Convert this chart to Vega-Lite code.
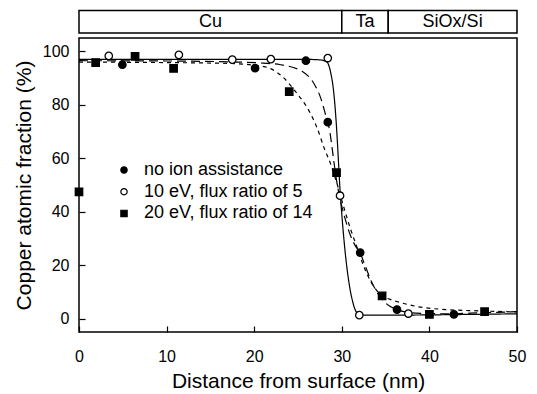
{
  "$schema": "https://vega.github.io/schema/vega-lite/v6.json",
  "padding": {"left": 13, "top": 9, "right": 4, "bottom": 4},
  "width": 438,
  "height": 294,
  "config": {
    "font": "Liberation Sans",
    "view": {"stroke": "black", "strokeWidth": 1.5},
    "axis": {
      "domain": false, "grid": false, "tickColor": "black", "tickWidth": 1.2, "tickSize": -6,
      "labelColor": "black", "titleColor": "black", "labelFontSize": 16, "titleFontSize": 21,
      "titleFontWeight": "normal", "labelFont": "Liberation Sans", "titleFont": "Liberation Sans"
    },
    "legend": {
      "orient": "none", "legendX": 36, "legendY": 123, "padding": 0, "labelFontSize": 18,
      "labelColor": "black", "symbolSize": 40, "rowPadding": 3.7, "labelOffset": 11, "labelLimit": 400,
      "symbolStrokeColor": "black", "symbolStrokeWidth": 1.2, "labelFont": "Liberation Sans"
    }
  },
  "datasets": {
    "layers": [
      {"layer": "Cu", "start": 0, "end": 30, "mid": 15},
      {"layer": "Ta", "start": 30, "end": 35.3, "mid": 32.65},
      {"layer": "SiOx/Si", "start": 35.3, "end": 50, "mid": 42.65}
    ],
    "points": [
      {"series": "no ion assistance", "x": 4.95, "y": 95.0},
      {"series": "no ion assistance", "x": 20.1, "y": 93.7},
      {"series": "no ion assistance", "x": 25.9, "y": 96.5},
      {"series": "no ion assistance", "x": 28.4, "y": 73.5},
      {"series": "no ion assistance", "x": 32.1, "y": 24.7},
      {"series": "no ion assistance", "x": 36.3, "y": 3.4},
      {"series": "no ion assistance", "x": 42.8, "y": 1.6},
      {"series": "10 eV, flux ratio of 5", "x": 3.4, "y": 98.3},
      {"series": "10 eV, flux ratio of 5", "x": 11.4, "y": 98.7},
      {"series": "10 eV, flux ratio of 5", "x": 17.5, "y": 96.9},
      {"series": "10 eV, flux ratio of 5", "x": 21.9, "y": 97.1},
      {"series": "10 eV, flux ratio of 5", "x": 28.4, "y": 97.5},
      {"series": "10 eV, flux ratio of 5", "x": 29.8, "y": 46.0},
      {"series": "10 eV, flux ratio of 5", "x": 32.0, "y": 1.3},
      {"series": "10 eV, flux ratio of 5", "x": 37.6, "y": 1.9},
      {"series": "20 eV, flux ratio of 14", "x": 0, "y": 47.4},
      {"series": "20 eV, flux ratio of 14", "x": 1.9, "y": 95.8},
      {"series": "20 eV, flux ratio of 14", "x": 6.4, "y": 98.1},
      {"series": "20 eV, flux ratio of 14", "x": 10.8, "y": 93.6},
      {"series": "20 eV, flux ratio of 14", "x": 24.0, "y": 84.9},
      {"series": "20 eV, flux ratio of 14", "x": 29.4, "y": 54.6},
      {"series": "20 eV, flux ratio of 14", "x": 34.6, "y": 8.5},
      {"series": "20 eV, flux ratio of 14", "x": 40.0, "y": 1.6},
      {"series": "20 eV, flux ratio of 14", "x": 46.3, "y": 2.6}
    ],
    "curves": [
      {"fit": "10 eV fit", "x": 0, "y": 97.0},
      {"fit": "10 eV fit", "x": 10, "y": 97.0},
      {"fit": "10 eV fit", "x": 20, "y": 97.0},
      {"fit": "10 eV fit", "x": 26, "y": 97.0},
      {"fit": "10 eV fit", "x": 27.5, "y": 96.8},
      {"fit": "10 eV fit", "x": 28.3, "y": 96.0},
      {"fit": "10 eV fit", "x": 28.7, "y": 92.5},
      {"fit": "10 eV fit", "x": 29.1, "y": 84.0},
      {"fit": "10 eV fit", "x": 29.4, "y": 71.5},
      {"fit": "10 eV fit", "x": 29.6, "y": 60.0},
      {"fit": "10 eV fit", "x": 29.8, "y": 48.0},
      {"fit": "10 eV fit", "x": 30.05, "y": 37.0},
      {"fit": "10 eV fit", "x": 30.4, "y": 24.4},
      {"fit": "10 eV fit", "x": 30.9, "y": 11.8},
      {"fit": "10 eV fit", "x": 31.3, "y": 5.6},
      {"fit": "10 eV fit", "x": 31.7, "y": 2.3},
      {"fit": "10 eV fit", "x": 32.2, "y": 1.3},
      {"fit": "10 eV fit", "x": 35, "y": 1.3},
      {"fit": "10 eV fit", "x": 40, "y": 1.4},
      {"fit": "10 eV fit", "x": 45, "y": 1.6},
      {"fit": "10 eV fit", "x": 50, "y": 1.8},
      {"fit": "no ion fit", "x": 0, "y": 96.5},
      {"fit": "no ion fit", "x": 10, "y": 96.4},
      {"fit": "no ion fit", "x": 18, "y": 96.0},
      {"fit": "no ion fit", "x": 21, "y": 95.6},
      {"fit": "no ion fit", "x": 23, "y": 95.0},
      {"fit": "no ion fit", "x": 25.5, "y": 92.5},
      {"fit": "no ion fit", "x": 26.9, "y": 87.5},
      {"fit": "no ion fit", "x": 27.6, "y": 82.5},
      {"fit": "no ion fit", "x": 28.2, "y": 75.6},
      {"fit": "no ion fit", "x": 28.6, "y": 70.6},
      {"fit": "no ion fit", "x": 29.0, "y": 61.2},
      {"fit": "no ion fit", "x": 29.25, "y": 55.0},
      {"fit": "no ion fit", "x": 29.6, "y": 48.0},
      {"fit": "no ion fit", "x": 30.0, "y": 42.0},
      {"fit": "no ion fit", "x": 30.5, "y": 36.0},
      {"fit": "no ion fit", "x": 31.0, "y": 31.0},
      {"fit": "no ion fit", "x": 31.5, "y": 27.5},
      {"fit": "no ion fit", "x": 32.1, "y": 24.5},
      {"fit": "no ion fit", "x": 32.7, "y": 19.5},
      {"fit": "no ion fit", "x": 33.3, "y": 14.5},
      {"fit": "no ion fit", "x": 34.0, "y": 10.0},
      {"fit": "no ion fit", "x": 34.7, "y": 6.8},
      {"fit": "no ion fit", "x": 35.4, "y": 4.8},
      {"fit": "no ion fit", "x": 36.3, "y": 3.4},
      {"fit": "no ion fit", "x": 37.5, "y": 2.4},
      {"fit": "no ion fit", "x": 39, "y": 2.0},
      {"fit": "no ion fit", "x": 42, "y": 1.8},
      {"fit": "no ion fit", "x": 46, "y": 2.2},
      {"fit": "no ion fit", "x": 50, "y": 2.6},
      {"fit": "20 eV fit", "x": 0, "y": 96.0},
      {"fit": "20 eV fit", "x": 10, "y": 95.8},
      {"fit": "20 eV fit", "x": 17, "y": 95.5},
      {"fit": "20 eV fit", "x": 21.1, "y": 94.3},
      {"fit": "20 eV fit", "x": 23.2, "y": 90.6},
      {"fit": "20 eV fit", "x": 24.7, "y": 85.0},
      {"fit": "20 eV fit", "x": 26.3, "y": 77.5},
      {"fit": "20 eV fit", "x": 27.2, "y": 71.2},
      {"fit": "20 eV fit", "x": 28.0, "y": 63.7},
      {"fit": "20 eV fit", "x": 28.7, "y": 58.1},
      {"fit": "20 eV fit", "x": 29.5, "y": 50.0},
      {"fit": "20 eV fit", "x": 30.2, "y": 42.0},
      {"fit": "20 eV fit", "x": 31.0, "y": 33.5},
      {"fit": "20 eV fit", "x": 31.7, "y": 27.0},
      {"fit": "20 eV fit", "x": 32.4, "y": 20.5},
      {"fit": "20 eV fit", "x": 33.2, "y": 14.5},
      {"fit": "20 eV fit", "x": 34.0, "y": 10.5},
      {"fit": "20 eV fit", "x": 34.6, "y": 8.6},
      {"fit": "20 eV fit", "x": 35.5, "y": 7.2},
      {"fit": "20 eV fit", "x": 36.5, "y": 6.2},
      {"fit": "20 eV fit", "x": 38.8, "y": 4.4},
      {"fit": "20 eV fit", "x": 41.9, "y": 3.4},
      {"fit": "20 eV fit", "x": 45.7, "y": 2.9},
      {"fit": "20 eV fit", "x": 50, "y": 2.5}
    ]
  },
  "layer": [
    {
      "data": {"name": "curves"},
      "mark": {"type": "line", "color": "black", "strokeWidth": 1.2, "interpolate": "monotone"},
      "encoding": {
        "x": {"field": "x", "type": "quantitative", "title": "Distance from surface (nm)",
              "scale": {"domain": [0, 50], "nice": false},
              "axis": {"values": [0, 10, 20, 30, 40, 50], "labelFlush": false, "labelPadding": 22, "titlePadding": 6}},
        "y": {"field": "y", "type": "quantitative", "title": "Copper atomic fraction (%)",
              "scale": {"domain": [-5, 105], "nice": false},
              "axis": {"values": [0, 20, 40, 60, 80, 100], "labelPadding": 16, "titlePadding": 8}},
        "strokeDash": {"field": "fit", "type": "nominal", "legend": null,
                       "scale": {"domain": ["no ion fit", "10 eV fit", "20 eV fit"],
                                 "range": [[9, 5], [1, 0], [4, 4]]}}
      }
    },
    {
      "data": {"name": "points"},
      "mark": {"type": "point", "strokeWidth": 1.3, "opacity": 1, "size": 55},
      "encoding": {
        "x": {"field": "x", "type": "quantitative"},
        "y": {"field": "y", "type": "quantitative"},
        "shape": {"field": "series", "type": "nominal", "title": null,
                  "scale": {"domain": ["no ion assistance", "10 eV, flux ratio of 5", "20 eV, flux ratio of 14"],
                            "range": ["circle", "circle", "square"]}},
        "fill": {"field": "series", "type": "nominal", "title": null,
                 "scale": {"domain": ["no ion assistance", "10 eV, flux ratio of 5", "20 eV, flux ratio of 14"],
                           "range": ["black", "white", "black"]}},
        "stroke": {"field": "series", "type": "nominal", "title": null,
                   "scale": {"domain": ["no ion assistance", "10 eV, flux ratio of 5", "20 eV, flux ratio of 14"],
                             "range": ["black", "black", "black"]}}
      }
    },
    {
      "data": {"name": "layers"},
      "mark": {"type": "rect", "fill": "white", "stroke": "black", "strokeWidth": 1.5},
      "encoding": {
        "x": {"field": "start", "type": "quantitative"},
        "x2": {"field": "end"},
        "y": {"datum": 115.3},
        "y2": {"datum": 106.9}
      }
    },
    {
      "data": {"name": "layers"},
      "mark": {"type": "text", "fontSize": 18, "color": "black", "font": "Liberation Sans"},
      "encoding": {
        "x": {"field": "mid", "type": "quantitative"},
        "y": {"datum": 111.1},
        "text": {"field": "layer"}
      }
    }
  ]
}
